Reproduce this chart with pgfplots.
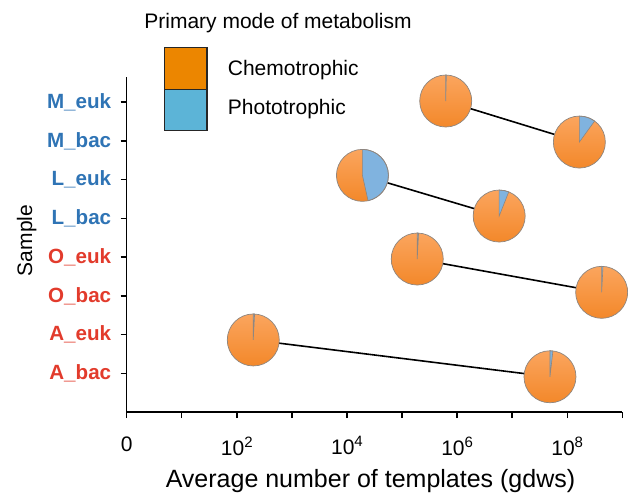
\documentclass[border=0pt]{standalone}
\usepackage{pgfplots}
\pgfplotsset{compat=1.18}
\usepackage{pgfplotstable}
\usepackage{fontspec}
\setmainfont{Liberation Sans}
\definecolor{labblue}{HTML}{2F74B5}
\definecolor{labred}{HTML}{E23B2C}
\definecolor{pieoT}{HTML}{FBA55E}
\definecolor{pieoB}{HTML}{F3882A}
\definecolor{pieb}{HTML}{80B3DF}
\definecolor{legorange}{HTML}{EC8600}
\definecolor{legblue}{HTML}{5CB4D7}
\definecolor{pieedge}{HTML}{8E8680}
\newcommand{\tp}[1]{10\raisebox{8pt}{\fontsize{15}{15}\selectfont #1}}
\pgfdeclareverticalshading{pieoshade}{100bp}{color(0bp)=(pieoB); color(25bp)=(pieoB); color(75bp)=(pieoT); color(100bp)=(pieoT)}
\pgfdeclareplotmark{pie}{%
  \pgfpathcircle{\pgfpointorigin}{26pt}%
  \pgfshadepath{pieoshade}{0}%
  \pgfusepath{}%
  \pgfmathsetmacro\pend{90-360*\pf}%
  \pgfpathmoveto{\pgfpointorigin}%
  \pgfpathlineto{\pgfpoint{0pt}{26pt}}%
  \pgfpatharc{90}{\pend}{26pt}%
  \pgfpathclose
  \pgfsetfillcolor{pieb}\pgfsetstrokecolor{pieedge}\pgfsetlinewidth{0.6pt}%
  \pgfusepath{fill,stroke}%
  \pgfpathcircle{\pgfpointorigin}{26pt}%
  \pgfsetstrokecolor{pieedge}\pgfsetlinewidth{0.7pt}\pgfusepath{stroke}%
}

\pgfplotstableread{
x y f
6.21e5 8.03 0.004
1.66e8 6.97 0.10
1.91e4 6.11 0.465
5.81e6 5.06 0.06
1.89e5 3.95 0.008
4.22e8 3.09 0.008
199 1.86 0.008
4.86e7 0.91 0.018
}\pies

\begin{document}
\begin{tikzpicture}
\begin{axis}[
  scale only axis,
  width=495.6pt, height=335pt,
  xmode=log, log basis x=10,
  xmin=1, xmax=1e9,
  ymin=0, ymax=8.65,
  clip=false,
  axis x line*=bottom, axis y line*=left,
  axis line style={line width=1.4pt, black},
  every tick/.style={line width=1.4pt, black},
  tick align=outside,
  major tick length=6pt, minor tick length=6pt,
  xtick={1,1e2,1e4,1e6,1e8},
  xticklabels={0,\tp{2},\tp{4},\tp{6},\tp{8}},
  minor xtick={10,1e3,1e5,1e7,1e9},
  ytick={1,2,3,4,5,6,7,8},
  yticklabels={\textcolor{labred}{A\_bac},\textcolor{labred}{A\_euk},\textcolor{labred}{O\_bac},\textcolor{labred}{O\_euk},\textcolor{labblue}{L\_bac},\textcolor{labblue}{L\_euk},\textcolor{labblue}{M\_bac},\textcolor{labblue}{M\_euk}},
  xticklabel style={font=\fontsize{21}{25}\selectfont, yshift=-15pt},
  yticklabel style={font=\fontsize{20.6}{24}\selectfont\bfseries, xshift=-6pt},
  xlabel={Average number of templates (gdws)},
  ylabel={Sample},
  xlabel style={font=\fontsize{25}{29}\selectfont, at={(axis description cs:0.5,0)}, anchor=center, yshift=-69pt, xshift=-4pt},
  ylabel style={font=\fontsize{21}{25}\selectfont, at={(axis description cs:0,0.5)}, anchor=center, yshift=100pt, xshift=4pt},
]
\addplot[black, line width=1.6pt] coordinates {(6.21e5,8.03) (1.66e8,6.97)};
\addplot[black, line width=1.6pt] coordinates {(1.91e4,6.11) (5.81e6,5.06)};
\addplot[black, line width=1.6pt] coordinates {(1.89e5,3.95) (4.22e8,3.09)};
\addplot[black, line width=1.6pt] coordinates {(199,1.86) (4.86e7,0.91)};
\addplot[only marks, mark=pie,
  visualization depends on={\thisrow{f} \as \pf},
] table[x=x, y=y] {\pies};
\end{axis}
\node[anchor=base, font=\fontsize{21}{25}\selectfont] at (151.3pt,383pt) {Primary mode of metabolism};
\filldraw[fill=legorange, draw=black!85, line width=1.2pt] (38pt,322.7pt) rectangle (80.3pt,364.7pt);
\filldraw[fill=legblue, draw=black!85, line width=1.2pt] (38pt,281.3pt) rectangle (80.3pt,322.7pt);
\node[anchor=base west, inner sep=0pt, font=\fontsize{21}{25}\selectfont] at (101pt,336pt) {Chemotrophic};
\node[anchor=base west, inner sep=0pt, font=\fontsize{21}{25}\selectfont] at (101pt,297pt) {Phototrophic};
\pgfresetboundingbox
\path[use as bounding box] (-126.7pt,-81pt) rectangle (501.3pt,412pt);
\end{tikzpicture}
\end{document}
